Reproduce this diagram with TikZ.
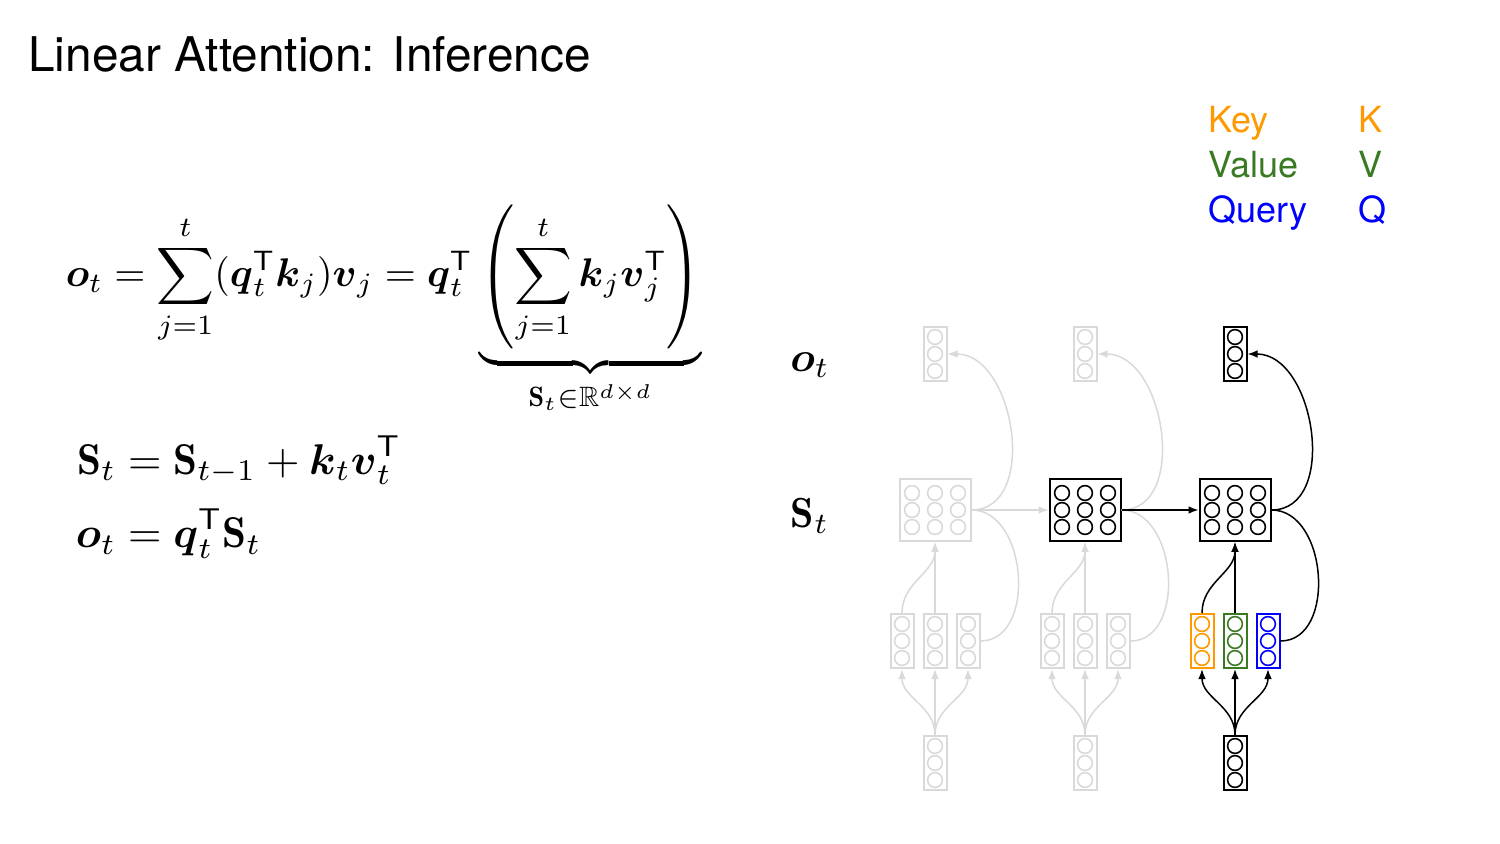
\documentclass[tikz,border=0pt]{standalone}
\usepackage{amsmath,amssymb}
\usepackage{fontspec}
\newfontfamily\heros{TeX Gyre Heros}
\usetikzlibrary{arrows.meta}

\definecolor{keyc}{RGB}{255,153,0}
\definecolor{valc}{RGB}{58,122,35}
\definecolor{qryc}{RGB}{0,0,255}
\definecolor{faded}{RGB}{217,217,217}

\tikzset{
	vecbox/.style={draw, line width=1pt, minimum width=11.5pt, minimum height=27pt, inner sep=0pt},
	matbox/.style={draw, line width=1pt, minimum width=35.5pt, minimum height=31pt, inner sep=0pt},
	unit/.style={line width=0.8pt},
	link/.style={line width=0.75pt},
	tip/.style={-{Latex[length=5pt,width=3.8pt]}},
	eqn/.style={inner sep=0pt, scale=2.0},
	receqn/.style={inner sep=0pt, scale=2.15},
	lbl/.style={inner sep=0pt, scale=2.1},
	legend/.style={anchor=base west, inner sep=0pt, font=\fontsize{18}{22}\selectfont\heros},
}

\newcommand{\vecnode}[3]{%
	\node[vecbox, draw=#3] (#1) at #2 {};
	\foreach \dy in {-17,0,17}
		\draw[unit, #3] (#1) ++(0,\dy) circle[radius=3.7pt];
}
\newcommand{\matnode}[3]{%
	\node[matbox, draw=#3] (#1) at #2 {};
	\foreach \dx in {-23,0,23}
		\foreach \dy in {-17,0,17}
			\draw[unit, #3] (#1) ++(\dx,\dy) circle[radius=3.7pt];
}

\begin{document}
\begin{tikzpicture}[x=0.5pt, y=-0.5pt]
	\useasboundingbox (0,0) rectangle (1500,844);

	\node[anchor=base west, inner sep=0pt, font=\fontsize{23.9}{28}\selectfont\heros] (title) at (28,72) {Linear Attention: Inference};

	\node[eqn, anchor=base west] (sumeq) at (65,287) {$\displaystyle \boldsymbol{o}_t = \sum_{j=1}^{t}(\boldsymbol{q}_t^{\mathsf{T}}\boldsymbol{k}_j)\boldsymbol{v}_j = \boldsymbol{q}_t^{\mathsf{T}}\underbrace{\left(\sum_{j=1}^{t}\boldsymbol{k}_j\boldsymbol{v}_j^{\mathsf{T}}\right)}_{\mathbf{S}_t\in\mathbb{R}^{d\times d}}$};
	\node[receqn, anchor=north west] (receq) at (75,435) {$\begin{aligned} \mathbf{S}_t &= \mathbf{S}_{t-1} + \boldsymbol{k}_t\boldsymbol{v}_t^{\mathsf{T}} \\[0.5pt] \boldsymbol{o}_t &= \boldsymbol{q}_t^{\mathsf{T}}\mathbf{S}_t \end{aligned}$};

	\node[legend, text=keyc] (keyname) at (1208,133) {Key};
	\node[legend, text=valc] (valname) at (1208,178) {Value};
	\node[legend, text=qryc] (qryname) at (1208,223) {Query};
	\node[legend, text=keyc] (keyletter) at (1358,133) {K};
	\node[legend, text=valc] (valletter) at (1358,178) {V};
	\node[legend, text=qryc] (qryletter) at (1358,223) {Q};

	\node[lbl] (olabel) at (810,365) {$\boldsymbol{o}_t$};
	\node[lbl] (slabel) at (810,516) {$\mathbf{S}_t$};

	\foreach \i/\cx/\sc/\oc/\kc/\vc/\qc in {1/935/faded/faded/faded/faded/faded, 2/1085/black/faded/faded/faded/faded, 3/1235/black/black/keyc/valc/qryc} {
		\vecnode{o\i}{(\cx,354)}{\oc}
		\matnode{S\i}{(\cx,510)}{\sc}
		\vecnode{k\i}{(\cx-33,641)}{\kc}
		\vecnode{v\i}{(\cx,641)}{\vc}
		\vecnode{q\i}{(\cx+33,641)}{\qc}
		\vecnode{x\i}{(\cx,763)}{\oc}

		\draw[link, tip, \oc] (x\i.north) to[out=90, in=-90] (k\i.south);
		\draw[link, tip, \oc] (x\i.north) -- (v\i.south);
		\draw[link, tip, \oc] (x\i.north) to[out=90, in=-90] (q\i.south);
		\draw[link, tip, \oc] (k\i.north) to[out=90, in=-90] (S\i.south);
		\draw[link, tip, \oc] (v\i.north) -- (S\i.south);
		\draw[link, \oc] (q\i.east) to[out=0, in=0, looseness=1.1] (S\i.east);
		\draw[link, tip, \oc] (S\i.east) to[out=0, in=0, looseness=1.1] (o\i.east);
	}

	\draw[link, tip, faded] (S1.east) -- (S2.west);
	\draw[link, tip] (S2.east) -- (S3.west);
\end{tikzpicture}
\end{document}
